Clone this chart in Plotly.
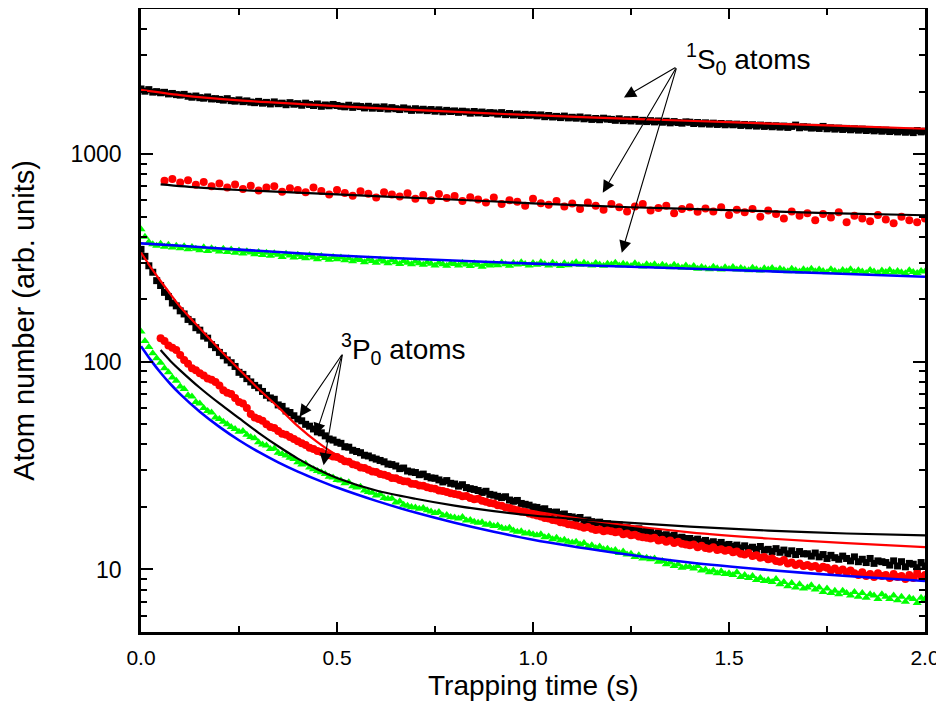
import numpy as np
import plotly.graph_objects as go

# ---------------- data ----------------
# time grids (s)
t_01 = [round(i * 0.01, 2) for i in range(201)]          # 0.00 .. 2.00
t_red_s = [round(0.06 + i * 0.02, 2) for i in range(98)]  # 0.06 .. 2.00
t_red_p = [round(0.05 + i * 0.01, 2) for i in range(196)] # 0.05 .. 2.00

# 1S0 atoms, black squares
s0_black = [
    2060, 2010, 2045, 1990, 2000, 1975, 1985, 1950, 1960, 1935,
    1925, 1940, 1900, 1880, 1905, 1870, 1860, 1885, 1845, 1850,
    1835, 1820, 1850, 1810, 1800, 1825, 1790, 1805, 1780, 1770,
    1795, 1760, 1775, 1745, 1785, 1750, 1760, 1730, 1770, 1740,
    1750, 1720, 1760, 1735, 1715, 1745, 1700, 1725, 1710, 1735,
    1715, 1700, 1690, 1720, 1680, 1705, 1695, 1670, 1700, 1665,
    1685, 1660, 1690, 1650, 1675, 1655, 1640, 1670, 1650, 1625,
    1655, 1630, 1645, 1620, 1640, 1610, 1635, 1600, 1625, 1605,
    1615, 1590, 1610, 1600, 1575, 1605, 1580, 1595, 1570, 1585,
    1580, 1560, 1585, 1550, 1570, 1545, 1560, 1535, 1555, 1540,
    1550, 1530, 1545, 1515, 1535, 1510, 1520, 1500, 1525, 1495,
    1505, 1490, 1510, 1480, 1495, 1470, 1485, 1465, 1490, 1475,
    1470, 1455, 1480, 1450, 1465, 1445, 1470, 1440, 1455, 1435,
    1450, 1430, 1445, 1425, 1440, 1415, 1435, 1420, 1410, 1430,
    1425, 1405, 1420, 1400, 1415, 1395, 1410, 1390, 1405, 1385,
    1400, 1385, 1395, 1375, 1390, 1370, 1385, 1365, 1380, 1360,
    1375, 1355, 1370, 1350, 1365, 1345, 1360, 1380, 1340, 1355,
    1350, 1335, 1345, 1330, 1360, 1325, 1340, 1320, 1335, 1315,
    1330, 1310, 1325, 1305, 1320, 1300, 1315, 1295, 1310, 1290,
    1305, 1285, 1300, 1280, 1295, 1275, 1290, 1270, 1300, 1280,
    1290,
]
# 1S0 atoms, red circles
s0_red = [
    745, 760, 730, 748, 712, 735, 700, 722, 690, 715,
    680, 705, 668, 690, 700, 660, 685, 672, 655, 690,
    665, 640, 672, 650, 630, 662, 645, 618, 655, 640,
    625, 648, 610, 635, 600, 642, 615, 628, 595, 620,
    605, 585, 618, 575, 600, 590, 565, 610, 580, 570,
    595, 560, 578, 545, 585, 565, 540, 575, 555, 530,
    560, 575, 535, 550, 565, 520, 545, 555, 528, 548,
    530, 555, 510, 540, 525, 545, 500, 535, 515, 490,
    530, 505, 520, 480, 515, 495, 525, 470, 505, 490,
    475, 510, 485, 465, 500, 480, 470, 490,
]
# 1S0 atoms, green triangles
s0_green = [
    435, 400, 378, 368, 362, 370, 358, 366, 355, 362,
    352, 360, 348, 357, 350, 345, 356, 342, 352, 346,
    340, 350, 338, 347, 335, 344, 332, 341, 336, 330,
    338, 327, 335, 324, 333, 328, 320, 331, 325, 318,
    328, 320, 315, 326, 318, 312, 323, 316, 310, 320,
    312, 318, 308, 315, 305, 313, 309, 302, 311, 306,
    300, 310, 304, 298, 308, 302, 296, 306, 300, 295,
    304, 298, 293, 302, 297, 291, 300, 295, 290, 298,
    296, 291, 300, 294, 289, 298, 293, 287, 296, 291,
    297, 292, 301, 295, 290, 299, 294, 302, 296, 291,
    299, 293, 302, 296, 291, 300, 294, 289, 298, 292,
    297, 302, 293, 300, 295, 291, 299, 294, 290, 297,
    294, 300, 291, 297, 293, 289, 298, 292, 288, 295,
    290, 295, 287, 293, 289, 285, 293, 288, 284, 291,
    283, 289, 281, 286, 282, 279, 287, 282, 278, 285,
    280, 286, 278, 283, 279, 276, 284, 279, 275, 282,
    278, 283, 275, 281, 277, 273, 281, 276, 272, 279,
    275, 281, 273, 278, 274, 270, 279, 274, 270, 277,
    273, 279, 271, 276, 272, 268, 277, 272, 268, 275,
    271, 277, 269, 274, 270, 267, 276, 271, 268, 274,
    272,
]
# 3P0 atoms, black squares
p0_black = [
    348, 322, 290, 270, 246, 233, 216, 206, 192, 186,
    176, 170, 160, 156, 146, 142, 133, 130, 121, 117,
    111, 107, 102, 99, 95, 89, 87, 83, 80, 77,
    75, 72, 69, 67, 66, 62, 61, 58, 57, 55,
    53, 52, 50, 49, 47.5, 46, 45.5, 44, 42.5, 42,
    41, 40.5, 39, 38.8, 37.5, 37, 36.5, 35.5, 35.2, 34.5,
    34, 33.5, 33, 32.2, 32, 31.5, 30.6, 30.8, 29.8, 29.5,
    29.3, 28.6, 28.8, 28, 27.6, 27.5, 27, 26.4, 26.8, 26,
    25.8, 25.2, 25.6, 24.8, 24.5, 24.3, 24, 23.5, 23.8, 23,
    22.8, 22.5, 22.2, 22.4, 21.6, 21.3, 21.5, 20.8, 20.6, 20.4,
    20, 19.9, 19.5, 19.6, 19, 18.8, 18.9, 18.4, 18.5, 18,
    17.9, 17.6, 17.8, 17.2, 17.3, 17, 16.8, 16.9, 16.5, 16.6,
    16.3, 16.1, 16.4, 15.8, 15.9, 15.6, 15.4, 15.7, 15.2, 15.3,
    15.1, 14.8, 15, 14.6, 14.7, 14.4, 14.6, 14.2, 14.3, 14.1,
    14.1, 13.8, 14, 13.6, 13.8, 13.4, 13.6, 13.2, 13.5, 13.1,
    13.2, 12.9, 13.1, 12.7, 13, 12.6, 12.8, 12.5, 12.9, 12.4,
    12.5, 12.2, 12.6, 12.1, 12.4, 11.9, 12.3, 11.8, 12.2, 11.9,
    11.9, 11.6, 12, 11.5, 11.8, 11.3, 11.7, 11.4, 11.2, 11.6,
    11.3, 11, 11.5, 10.9, 11.2, 10.8, 11.3, 10.7, 11, 10.9,
    10.8, 10.5, 11, 10.4, 10.9, 10.3, 10.7, 10.6, 10.2, 10.8,
    10.4,
]
# 3P0 atoms, red circles
p0_red = [
    130, 126, 120, 117, 114,
    108, 102, 98, 93, 91, 88, 86, 83, 82, 80,
    77, 73, 71, 70, 67, 64, 63, 60, 56, 54,
    53, 52, 50, 48.5, 48, 46.5, 45, 44.5, 43.5, 42.5,
    41.5, 40.5, 39.8, 38.6, 38, 37.2, 36.8, 36, 35.5, 35,
    34.8, 34, 33.2, 33, 32.1, 31.8, 31, 30.8, 30.2, 29.6,
    29.5, 28.8, 28.6, 28.2, 27.6, 27.5, 27, 26.6, 26.5, 25.9,
    25.8, 25.4, 25.3, 24.9, 24.6, 24.5, 24, 23.9, 23.6, 23.3,
    23.1, 22.9, 22.5, 22.6, 22.1, 21.8, 21.9, 21.4, 21.2, 20.9,
    20.8, 20.4, 20.3, 19.9, 19.8, 19.5, 19.3, 19, 18.9, 18.6,
    18.4, 18.2, 18, 17.7, 17.6, 17.3, 17.2, 16.9, 16.8, 16.5,
    16.4, 16.3, 16.1, 15.9, 16, 15.7, 15.5, 15.6, 15.3, 15.4,
    15.3, 15.1, 15.2, 14.8, 14.9, 14.6, 14.7, 14.4, 14.3, 14.2,
    14.1, 14.2, 13.8, 13.9, 13.6, 13.8, 13.4, 13.6, 13.3, 13.2,
    13.1, 13.2, 12.8, 13, 12.7, 12.6, 12.8, 12.4, 12.5, 12.3,
    12.4, 12.1, 12.2, 11.9, 11.8, 12, 11.6, 11.7, 11.4, 11.5,
    11.2, 11.3, 11, 10.9, 11.1, 10.7, 10.8, 10.5, 10.7, 10.4,
    10.5, 10.3, 10.4, 10.1, 10.3, 10.2, 9.9, 10.1, 9.8, 10,
    9.7, 9.9, 9.6, 9.4, 9.7, 9.3, 9.5, 9.2, 9.6, 9.3,
    9.4, 9.1, 9.5, 9.2, 9.3, 9.0, 9.4, 9.1, 9.6, 9.2,
    9.4,
]
# 3P0 atoms, green triangles
p0_green = [
    140, 126, 118, 110, 104, 99, 93, 89, 84, 81,
    76, 74, 69, 68, 64, 63, 60, 58, 57, 54,
    53, 51.5, 50, 48.5, 47.5, 46, 46.5, 44.5, 43.5, 42.8,
    41, 40, 39.5, 38, 38.3, 36.5, 36, 35.4, 34.5, 34,
    32.8, 32, 32.3, 31, 30.4, 29.8, 29.4, 28.8, 28, 27.7,
    27, 26.8, 26, 26.3, 25.2, 24.8, 25, 24, 23.6, 23.4,
    22.7, 23, 22.1, 21.9, 22, 21, 21.3, 20.5, 20.3, 20,
    19.9, 19.6, 19.8, 19.3, 19, 18.7, 18.9, 18.2, 18.3, 17.9,
    17.8, 17.6, 17.9, 17.2, 17.3, 17, 16.8, 16.9, 16.4, 16.5,
    16.2, 16.3, 15.9, 15.7, 15.9, 15.4, 15.2, 15.3, 14.9, 15,
    14.8, 14.6, 14.8, 14.3, 14.4, 14, 14.2, 13.8, 13.9, 13.6,
    13.5, 13.6, 13.2, 13.4, 12.9, 13.1, 12.7, 12.9, 12.5, 12.6,
    12.3, 12.4, 12, 12.2, 11.8, 11.9, 11.5, 11.7, 11.3, 11.4,
    11.2, 11.3, 10.9, 11, 10.6, 10.8, 10.4, 10.6, 10.2, 10.3,
    10.3, 10.1, 10.4, 9.9, 10, 9.7, 9.9, 9.6, 9.8, 9.5,
    9.6, 9.4, 9.7, 9.2, 9.4, 9.1, 9.3, 8.9, 9.1, 8.8,
    8.9, 8.7, 9, 8.5, 8.7, 8.3, 8.6, 8.2, 8.5, 8.1,
    8.2, 8.4, 8, 8.2, 7.8, 8.1, 7.7, 7.9, 7.6, 7.9,
    7.7, 7.5, 7.8, 7.4, 7.7, 7.3, 7.6, 7.5, 7.2, 7.6,
    7.4, 7.2, 7.5, 7.1, 7.4, 7.0, 7.3, 7.2, 6.9, 7.3,
    7.2,
]

# fit curves (knots)
fit_s0_black_t = [0, 0.1, 0.25, 0.5, 0.75, 1.0, 1.25, 1.5, 1.75, 2.0]
fit_s0_black_v = [2040, 1925, 1815, 1705, 1615, 1540, 1480, 1425, 1375, 1325]
fit_s0_red_t = [0.05, 0.15, 0.25, 0.5, 0.75, 1.0, 1.25, 1.5, 1.75, 2.0]
fit_s0_red_v = [716, 690, 672, 640, 610, 580, 555, 538, 520, 508]
fit_s0_green_t = [0, 0.1, 0.25, 0.5, 0.75, 1.0, 1.25, 1.5, 1.75, 2.0]
fit_s0_green_v = [372, 362, 347, 325, 310, 297, 287, 277, 267, 257]

fit_p0_black_t = [0, 0.025, 0.05, 0.075, 0.1, 0.15, 0.2, 0.25, 0.3, 0.35, 0.4,
                  0.45, 0.5, 0.6, 0.7, 0.8, 0.9, 1.0, 1.2, 1.4, 1.6, 1.8, 2.0]
fit_p0_black_v = [336, 285, 245, 212, 184, 145, 115, 92, 74, 60.5, 49,
                  41, 35.5, 29.5, 26, 23.3, 21, 19.1, 16.7, 15.1, 14.1, 13.4, 12.8]
fit_p0_red_t = [0.05, 0.075, 0.1, 0.15, 0.2, 0.25, 0.3, 0.35, 0.4, 0.45, 0.5,
                0.6, 0.7, 0.8, 0.9, 1.0, 1.2, 1.4, 1.6, 1.8, 2.0]
fit_p0_red_v = [114, 101, 91, 75, 63, 53.5, 45.5, 39.2, 34.2, 30.4, 27.6,
                24, 21.9, 20.3, 19.1, 18.2, 17, 16.1, 15.4, 14.9, 14.6]
fit_p0_green_t = [0, 0.025, 0.05, 0.075, 0.1, 0.15, 0.2, 0.25, 0.3, 0.35, 0.4,
                  0.45, 0.5, 0.6, 0.7, 0.8, 0.9, 1.0, 1.2, 1.4, 1.6, 1.8, 2.0]
fit_p0_green_v = [119, 101.9, 88.6, 78.2, 69.9, 57.5, 48.6, 41.9, 36.8, 32.8, 29.6,
                  27.0, 24.8, 21.4, 18.8, 16.8, 15.2, 13.9, 12.1, 10.8, 9.95, 9.3, 8.8]

x_ticks = [0.0, 0.5, 1.0, 1.5, 2.0]
y_ticks = [10, 100, 1000]
y_tick_text = ["10", "100", "1000"]

# ---------------- figure ----------------
BLACK = "#000000"
RED = "#ff0000"
GREEN = "#00ff00"
BLUE = "#0000ff"
FONT = "Arial, Liberation Sans, sans-serif"

fig = go.Figure()

def markers(t, v, symbol, color, size):
    fig.add_trace(go.Scatter(x=t, y=v, mode="markers",
                             marker=dict(symbol=symbol, color=color, size=size,
                                         line=dict(width=0)),
                             hoverinfo="skip"))

def fitline(t, v, color, width=2.2):
    fig.add_trace(go.Scatter(x=t, y=v, mode="lines",
                             line=dict(color=color, width=width, shape="spline",
                                       smoothing=0.8),
                             hoverinfo="skip"))

markers(t_01, s0_black, "square", BLACK, 7)
markers(t_red_s, s0_red, "circle", RED, 8)
markers(t_01, s0_green, "triangle-up", GREEN, 8)
markers(t_01, p0_black, "square", BLACK, 7)
markers(t_red_p, p0_red, "circle", RED, 8)
markers(t_01, p0_green, "triangle-up", GREEN, 8)

fitline(fit_s0_black_t, fit_s0_black_v, RED)
fitline(fit_s0_red_t, fit_s0_red_v, BLACK)
fitline(fit_s0_green_t, fit_s0_green_v, BLUE, 2.6)
fitline(fit_p0_black_t, fit_p0_black_v, RED)
fitline(fit_p0_red_t, fit_p0_red_v, BLACK)
fitline(fit_p0_green_t, fit_p0_green_v, BLUE, 2.6)

# minor tick positions
y_minor = [m * d for d in (1, 10, 100, 1000) for m in range(2, 10) if 5 <= m * d <= 5000]

fig.update_xaxes(
    range=[0, 2], tickvals=x_ticks, tickformat=".1f", automargin=False,
    ticks="inside", ticklen=10, tickwidth=2, tickcolor=BLACK,
    minor=dict(dtick=0.25, tick0=0, ticks="inside", ticklen=6, tickwidth=2,
               tickcolor=BLACK, showgrid=False),
    showline=True, linecolor=BLACK, linewidth=2.5, mirror="ticks",
    showgrid=False, zeroline=False,
    tickfont=dict(family=FONT, size=21, color=BLACK),
    ticklabelstandoff=5,
)
fig.update_yaxes(
    type="log", range=[np.log10(5), np.log10(5000)], automargin=False,
    tickvals=y_ticks, ticktext=y_tick_text,
    ticks="inside", ticklen=12, tickwidth=2, tickcolor=BLACK,
    minor=dict(tickmode="array", tickvals=y_minor, ticks="inside", ticklen=6,
               tickwidth=2, tickcolor=BLACK, showgrid=False),
    showline=True, linecolor=BLACK, linewidth=2.5, mirror="ticks",
    showgrid=False, zeroline=False,
    tickfont=dict(family=FONT, size=23, color=BLACK),
    ticklabelstandoff=12,
    title=dict(text="Atom number (arb. units)", font=dict(family=FONT, size=29, color=BLACK),
               standoff=37),
)

# x-axis title placed as paper annotation for exact vertical placement
fig.add_annotation(xref="paper", yref="paper", x=0.5, y=-0.086, xanchor="center",
                   yanchor="middle", showarrow=False, text="Trapping time (s)",
                   font=dict(family=FONT, size=28, color=BLACK))

# arrows: head in data coords, tail offset in pixels
arrows = [
    (1.232, 1872, 53, -31), (1.178, 652, 74, -126), (1.2265, 335, 55, -186),
    (0.4046, 54.4, 43, -63), (0.4454, 44.4, 27, -82), (0.4659, 31.8, 19, -112),
]
for (tx, vy, axp, ayp) in arrows:
    fig.add_annotation(x=tx, y=np.log10(vy), xref="x", yref="y", text="",
                       showarrow=True, ax=axp, ay=ayp, arrowhead=2, arrowsize=2.2,
                       arrowwidth=1.1, arrowcolor=BLACK, standoff=0, startstandoff=0)

fig.add_annotation(xref="paper", yref="paper", x=0.692, y=0.920, xanchor="left",
                   yanchor="middle", showarrow=False,
                   text="<sup>1</sup>S<sub>0</sub> atoms",
                   font=dict(family=FONT, size=28, color=BLACK))
fig.add_annotation(xref="paper", yref="paper", x=0.2525, y=0.454, xanchor="left",
                   yanchor="middle", showarrow=False,
                   text="<sup>3</sup>P<sub>0</sub> atoms",
                   font=dict(family=FONT, size=28, color=BLACK))

# the page body has an 8 px default margin, so the figure is 8 px smaller
fig.update_layout(
    width=936, height=717,
    margin=dict(l=133, r=19, t=1, b=93, pad=0, autoexpand=False),
    plot_bgcolor="white", paper_bgcolor="white",
    showlegend=False,
)

fig.write_html("out.html")
